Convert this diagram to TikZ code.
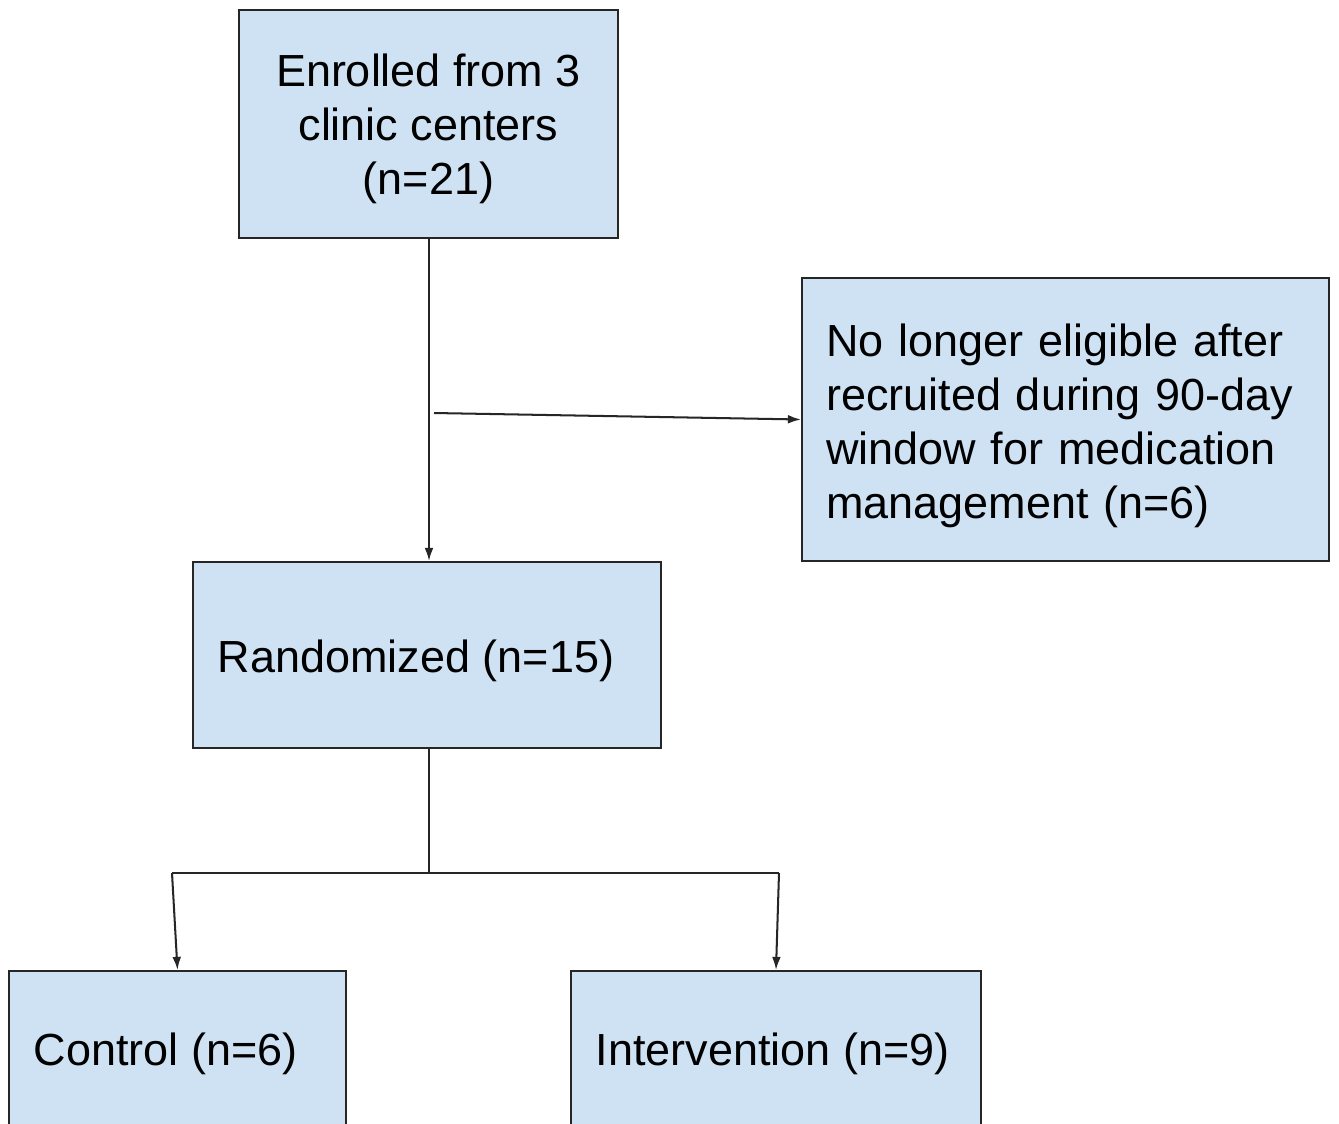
\documentclass[tikz,border=0pt]{standalone}
\usepackage{fontspec}
\setmainfont{Liberation Sans}
\usetikzlibrary{arrows.meta}
\definecolor{boxblue}{HTML}{CFE2F3}
\begin{document}
\begin{tikzpicture}[x=0.02cm,y=-0.02cm,
  box/.style={draw=black!85, line width=1.1pt, fill=boxblue, inner sep=0pt},
  txt/.style={font=\fontsize{25.6}{30.7}\selectfont, align=center, inner sep=0pt},
  conn/.style={line width=1.15pt, draw=black!85},
  arr/.style={conn, -{Latex[length=7.5pt,width=5pt]}}]
\useasboundingbox (0,0) rectangle (1339,1123);
\clip (0,0) rectangle (1339,1123);
\fill[white] (0,0) rectangle (1339,1123);

\node[box, minimum width=7.58cm, minimum height=4.56cm,
  label={[txt, name=topt, yshift=-0.1cm]center:Enrolled from 3\\clinic centers\\(n=21)}]
  (top) at (428.5,124) {};
\node[box, minimum width=10.54cm, minimum height=5.66cm,
  label={[txt, name=eligt, text width=9.62cm, align=left, xshift=0.02cm, yshift=-0.12cm]center:No longer eligible after\\recruited during 90-day\\window for medication\\management (n=6)}]
  (elig) at (1065.5,419.5) {};
\node[box, minimum width=9.36cm, minimum height=3.72cm,
  label={[txt, name=randt, xshift=-0.22cm, yshift=-0.12cm]center:Randomized (n=15)}]
  (rand) at (427,655) {};
\node[box, minimum width=6.74cm, minimum height=3.2cm,
  label={[txt, name=ctrlt, xshift=-0.24cm, yshift=-0.06cm]center:Control (n=6)}]
  (ctrl) at (177.5,1051) {};
\node[box, minimum width=8.2cm, minimum height=3.2cm,
  label={[txt, name=intervt, xshift=-0.07cm, yshift=-0.06cm]center:Intervention (n=9)}]
  (interv) at (776,1051) {};

\coordinate (branch) at (434,413);
\coordinate (split) at (429,873);
\coordinate (leftend) at (172,873);
\coordinate (rightend) at (779,873);

\draw[arr] (top.south -| 429,0) -- (rand.north -| 429,0);
\draw[arr] (branch) -- (elig.west);
\draw[conn] (rand.south -| split) -- (split);
\draw[conn] (leftend) -- (rightend);
\draw[arr] (leftend) -- (ctrl.north);
\draw[arr] (rightend) -- (interv.north);
\end{tikzpicture}
\end{document}
